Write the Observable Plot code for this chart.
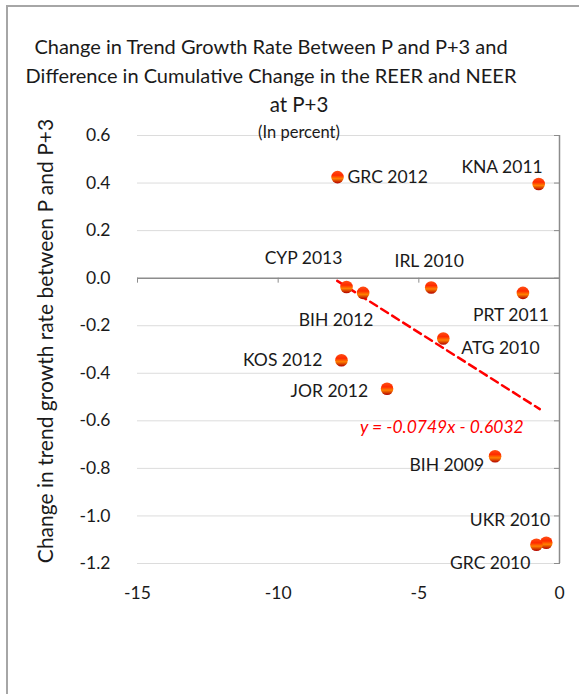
<!DOCTYPE html>
<html>
<head>
<meta charset="utf-8">
<script src="https://cdn.jsdelivr.net/npm/d3@7"></script>
<script src="https://cdn.jsdelivr.net/npm/@observablehq/plot@0.6"></script>
<style>
  html, body { margin: 0; padding: 0; background: #fff; overflow: hidden; }
  #wrap { position: relative; width: 579px; height: 694px; font-family: Lato, "Noto Sans", sans-serif; color: #1a1a1a; }
  #frame { position: absolute; left: 6px; top: 5px; width: 600px; height: 720px; border: 2px solid #a6a6a6; box-sizing: border-box; }
  .t { position: absolute; white-space: nowrap; transform: translate(-50%, -50%); }
  #chart { position: absolute; left: 0; top: 0; }
</style>
</head>
<body>
<div id="wrap">
  <div id="frame"></div>
  <div id="chart"></div>
  <div class="t" style="left:271px;top:46px;font-size:20px;">Change in Trend Growth Rate Between P and P+3 and</div>
  <div class="t" style="left:271px;top:75px;font-size:20px;">Difference in Cumulative Change in the REER and NEER</div>
  <div class="t" style="left:299px;top:104px;font-size:20.5px;">at P+3</div>
  <div class="t" style="left:299px;top:132px;font-size:16.5px;">(In percent)</div>
  <div class="t" style="left:44px;top:341px;font-size:21px;transform:translate(-50%,-50%) rotate(-90deg);">Change in trend growth rate between P and P+3</div>
</div>
<script>
const names = ["GRC 2012","KNA 2011","CYP 2013","BIH 2012","IRL 2010","PRT 2011","ATG 2010","KOS 2012","JOR 2012","BIH 2009","UKR 2010","GRC 2010"];
const xVals = [-7.89, -0.74, -7.57, -6.98, -4.56, -1.30, -4.13, -7.75, -6.13, -2.29, -0.47, -0.82];
const yVals = [0.425, 0.396, -0.037, -0.062, -0.039, -0.062, -0.254, -0.345, -0.465, -0.749, -1.113, -1.121];
const xTicks = [-15, -10, -5, 0];
const yTicks = [0.6, 0.4, 0.2, 0.0, -0.2, -0.4, -0.6, -0.8, -1.0, -1.2];
const slope = -0.0749, intercept = -0.6032;
const trendX = [-7.9, -0.7];
const equation = "y = -0.0749x - 0.6032";

// label placement (layout only)
const place = {
  "GRC 2012": ["start", 10, 0],
  "KNA 2011": ["end", 4, -17],
  "CYP 2013": ["middle", -43, -29],
  "BIH 2012": ["middle", -27, 27],
  "IRL 2010": ["middle", -2, -26],
  "PRT 2011": ["middle", -12, 22],
  "ATG 2010": ["start", 18, 10],
  "KOS 2012": ["end", -19, 0],
  "JOR 2012": ["end", -19, 3],
  "BIH 2009": ["end", -11, 9],
  "UKR 2010": ["end", 4, -22],
  "GRC 2010": ["end", -6, 19]
};

const pts = names.map((n, i) => ({name: n, x: xVals[i], y: yVals[i]}));
const trend = trendX.map(x => ({x, y: slope * x + intercept}));

const labelMarks = pts.map(p => {
  const [a, dx, dy] = place[p.name];
  return Plot.text([p], {x: "x", y: "y", text: "name", textAnchor: a, dx, dy, fontSize: 17.5, fill: "#1a1a1a"});
});

const hy = s => s.replace("\u2212", "-");

const chart = Plot.plot({
  width: 579,
  height: 694,
  marginLeft: 137,
  marginRight: 20,
  marginTop: 135,
  marginBottom: 131,
  style: {background: "transparent", fontFamily: "Lato, 'Noto Sans', sans-serif", fontSize: "17px", color: "#1a1a1a"},
  x: {domain: [-15, 0]},
  y: {domain: [-1.2, 0.6]},
  marks: [
    Plot.gridY(yTicks.filter(d => d !== 0), {stroke: "#dcdcdc", strokeOpacity: 1, strokeWidth: 1}),
    Plot.axisY(yTicks, {anchor: "left", tickSize: 0, tickPadding: 27, tickFormat: d => d.toFixed(1), label: null, fontSize: 17.5}),
    Plot.axisY(yTicks, {anchor: "right", tickSize: 6, dx: -6, text: null, label: null, stroke: "#8c8c8c"}),
    Plot.axisX(xTicks, {anchor: "bottom", tickSize: 0, tickPadding: 23, tickFormat: d => String(d), label: null, fontSize: 17.5}),
    Plot.ruleX(xTicks.filter(d => d !== 0), {x: d => d, y1: 0, y2: 0, insetBottom: -5, stroke: "#8c8c8c", strokeWidth: 1}),
    Plot.ruleY([0], {stroke: "#8c8c8c", strokeWidth: 1.5}),
    Plot.ruleX([0], {stroke: "#8c8c8c", strokeWidth: 1.5}),
    Plot.line(trend, {x: "x", y: "y", stroke: "#ff0000", strokeWidth: 2.5, strokeDasharray: "8,5"}),
    Plot.dot(pts, {x: "x", y: "y", r: 6.3, fill: "url(#fire)", stroke: "none"}),
    ...labelMarks,
    Plot.text([trend[1]], {x: "x", y: "y", text: () => equation, dx: -98, dy: 18, fontSize: 17.5, fontStyle: "italic", fill: "#ff0000"})
  ]
});

const ns = "http://www.w3.org/2000/svg";
const defs = document.createElementNS(ns, "defs");
defs.innerHTML = `<linearGradient id="fire" x1="0" y1="0" x2="0" y2="1">
  <stop offset="0" stop-color="#ff5014"/>
  <stop offset="0.35" stop-color="#ff2a00"/>
  <stop offset="0.62" stop-color="#ff8000"/>
  <stop offset="1" stop-color="#b00000"/>
</linearGradient>`;
chart.insertBefore(defs, chart.firstChild);
document.getElementById("chart").appendChild(chart);
</script>
</body>
</html>
